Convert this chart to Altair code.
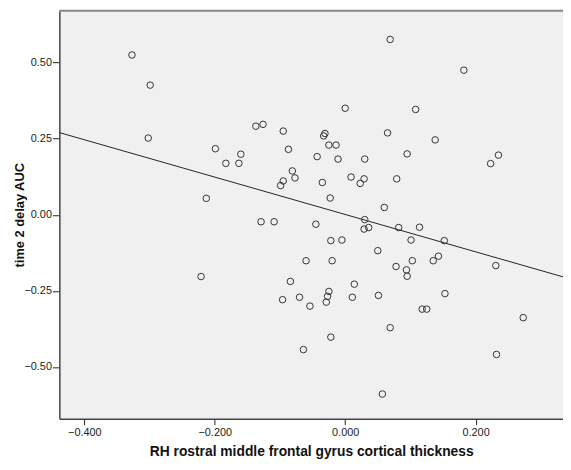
import altair as alt
import pandas as pd

x_vals = [-0.327, -0.299, -0.302, 0.000, -0.137, -0.126, -0.095, -0.031, -0.033, -0.025,
          -0.014, -0.199, -0.160, -0.087, -0.043, -0.011, 0.030, 0.069, 0.182, 0.108,
          0.065, 0.138, 0.095, 0.235, -0.183, -0.163, -0.081, -0.077, -0.095, -0.099,
          -0.035, 0.009, 0.029, 0.023, -0.023, -0.213, -0.129, -0.109, -0.045, 0.030,
          0.029, 0.036, -0.022, -0.005, 0.050, -0.060, -0.020, -0.221, -0.084, 0.014,
          -0.025, -0.027, -0.029, -0.070, -0.096, 0.011, -0.054, 0.051, 0.223, 0.079,
          0.060, 0.082, 0.114, 0.101, 0.152, 0.103, 0.143, 0.135, 0.078, 0.094,
          0.095, 0.231, 0.153, 0.118, 0.125, 0.069, 0.273, 0.232, 0.057, -0.022,
          -0.064]
y_vals = [0.525, 0.426, 0.252, 0.350, 0.291, 0.297, 0.275, 0.267, 0.259, 0.229,
          0.229, 0.217, 0.199, 0.215, 0.191, 0.183, 0.183, 0.576, 0.475, 0.346,
          0.269, 0.246, 0.200, 0.196, 0.169, 0.169, 0.144, 0.121, 0.111, 0.096,
          0.106, 0.124, 0.118, 0.103, 0.055, 0.054, -0.023, -0.023, -0.031, -0.016,
          -0.047, -0.042, -0.085, -0.083, -0.118, -0.151, -0.151, -0.203, -0.219, -0.228,
          -0.252, -0.268, -0.287, -0.271, -0.279, -0.271, -0.300, -0.265, 0.168, 0.118,
          0.024, -0.042, -0.041, -0.083, -0.085, -0.151, -0.136, -0.151, -0.170, -0.181,
          -0.202, -0.167, -0.259, -0.310, -0.310, -0.371, -0.338, -0.459, -0.589, -0.402,
          -0.443]

fit_x = [-0.4383, 0.334]
fit_y = [0.270, -0.204]

x_domain = [-0.4383, 0.334]
y_domain = [-0.67, 0.67]
x_ticks = [-0.4, -0.2, 0.0, 0.2]
y_ticks = [-0.5, -0.25, 0.0, 0.25, 0.5]

W, H = 510, 413

pts = pd.DataFrame({"x": x_vals, "y": y_vals})
fit = pd.DataFrame({"x": fit_x, "y": fit_y})

xs = alt.Scale(domain=x_domain, nice=False, zero=False)
ys = alt.Scale(domain=y_domain, nice=False, zero=False)

xaxis = alt.Axis(values=x_ticks, format=".3f", title="RH rostral middle frontal gyrus cortical thickness",
                 grid=False, domainColor="#444444", domainWidth=1.5, tickColor="#222222",
                 tickSize=6, tickWidth=1, labelFontSize=11, labelColor="#222222", labelPadding=2,
                 titleFontSize=14, titleFontWeight="bold", titleColor="#111111", titlePadding=7,
                 labelFont="Liberation Sans", titleFont="Liberation Sans")
yaxis = alt.Axis(values=y_ticks, format=".2f", title="time 2 delay AUC",
                 grid=False, domainColor="#444444", domainWidth=1.5, tickColor="#222222",
                 tickSize=7, tickWidth=1, labelFontSize=11, labelColor="#222222", labelPadding=1,
                 titleFontSize=13, titleFontWeight="bold", titleColor="#111111", titlePadding=-3,
                 labelFont="Liberation Sans", titleFont="Liberation Sans")

points = alt.Chart(pts).mark_point(shape="circle", filled=False, size=44, color="#333333",
                                   strokeWidth=1, opacity=1).encode(
    x=alt.X("x:Q", scale=xs, axis=xaxis),
    y=alt.Y("y:Q", scale=ys, axis=yaxis),
)

line = alt.Chart(fit).mark_line(color="#222222", strokeWidth=1, clip=True).encode(
    x=alt.X("x:Q", scale=xs),
    y=alt.Y("y:Q", scale=ys),
)

top_border = alt.Chart(pd.DataFrame({"a": [0]})).mark_rule(color="#888888", strokeWidth=2).encode(
    x=alt.value(0), x2=alt.value(W + 5), y=alt.value(0)
)

chart = alt.layer(line, points, top_border).properties(
    width=W, height=H,
    autosize=alt.AutoSizeParams(type="none"),
    padding={"left": 52, "top": 0, "right": 0, "bottom": 42},
).configure_view(stroke=None, fill="#f0f0f0")

chart.save("out.html", embed_options={"renderer": "svg", "actions": False})
